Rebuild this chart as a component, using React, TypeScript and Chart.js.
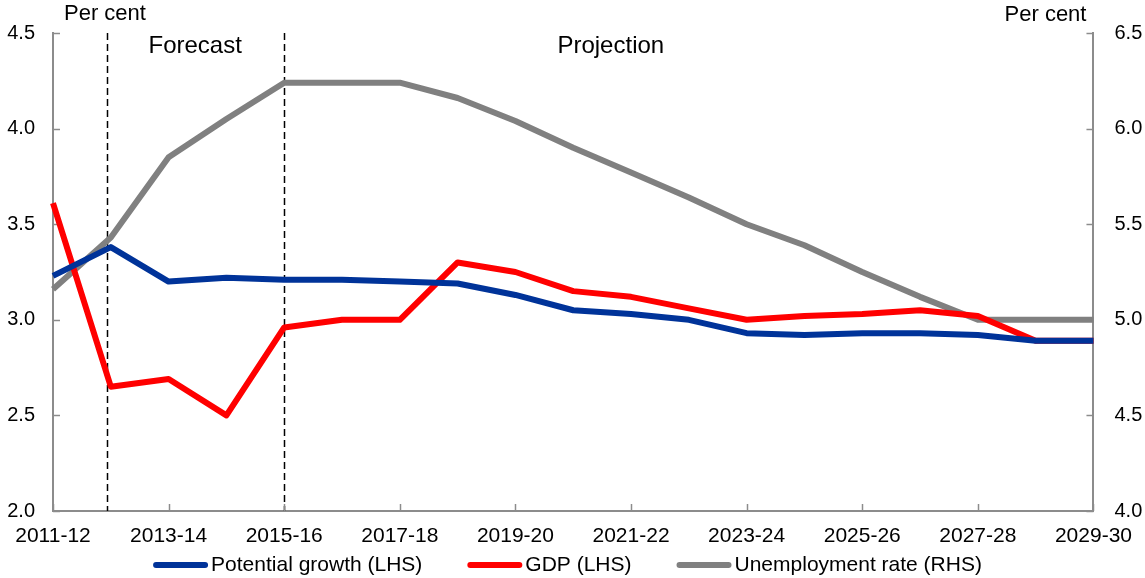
import React, { useEffect, useRef } from "react";
import { Chart, registerables } from "chart.js";
Chart.register(...registerables);

const categories = [
  "2011-12", "2012-13", "2013-14", "2014-15", "2015-16", "2016-17", "2017-18",
  "2018-19", "2019-20", "2020-21", "2021-22", "2022-23", "2023-24", "2024-25",
  "2025-26", "2026-27", "2027-28", "2028-29", "2029-30",
];
const potentialGrowth = [
  3.23, 3.38, 3.2, 3.22, 3.21, 3.21, 3.2, 3.19, 3.13, 3.05, 3.03, 3.0, 2.93,
  2.92, 2.93, 2.93, 2.92, 2.89, 2.89,
];
const gdp = [
  3.61, 2.65, 2.69, 2.5, 2.96, 3.0, 3.0, 3.3, 3.25, 3.15, 3.12, 3.06, 3.0,
  3.02, 3.03, 3.05, 3.02, 2.89, 2.89,
];
const unemployment = [
  5.16, 5.43, 5.85, 6.05, 6.24, 6.24, 6.24, 6.16, 6.04, 5.9, 5.77, 5.64, 5.5,
  5.39, 5.25, 5.12, 5.0, 5.0, 5.0,
];
const leftRange = [2.0, 4.5];
const rightRange = [4.0, 6.5];
const tickStep = 0.5;
const forecastStart = 0.93;
const forecastEnd = 3.99;
const forecastLabelAt = 2.46;
const projectionLabelAt = 9.65;
const seriesLabels = ["Potential growth (LHS)", "GDP (LHS)", "Unemployment rate (RHS)"];

const FONT = "'Liberation Sans', Arial, sans-serif";
const AXIS_GREY = "#8c8c8c";

const decorPlugin = {
  id: "decor",
  beforeDatasetsDraw(chart: any) {
    const { ctx, chartArea, scales } = chart;
    const x = scales.x;
    ctx.save();
    // dashed forecast lines
    ctx.strokeStyle = "#000";
    ctx.lineWidth = 1.5;
    ctx.setLineDash([7, 4]);
    [forecastStart, forecastEnd].forEach((v) => {
      const px = Math.round(x.getPixelForValue(v)) + 0.5;
      ctx.beginPath();
      ctx.moveTo(px, chartArea.top);
      ctx.lineTo(px, chartArea.bottom);
      ctx.stroke();
    });
    ctx.setLineDash([]);
    // inward tick marks
    ctx.strokeStyle = AXIS_GREY;
    ctx.lineWidth = 1.5;
    const yl = scales.y;
    const yr = scales.y1;
    yl.ticks.forEach((t: any) => {
      const py = Math.round(yl.getPixelForValue(t.value)) + 0.5;
      ctx.beginPath();
      ctx.moveTo(chartArea.left, py);
      ctx.lineTo(chartArea.left + 7, py);
      ctx.stroke();
    });
    yr.ticks.forEach((t: any) => {
      const py = Math.round(yr.getPixelForValue(t.value)) + 0.5;
      ctx.beginPath();
      ctx.moveTo(chartArea.right, py);
      ctx.lineTo(chartArea.right - 7, py);
      ctx.stroke();
    });
    categories.forEach((_, i) => {
      if (i % 2 !== 0) return;
      const px = Math.round(x.getPixelForValue(i)) + 0.5;
      ctx.beginPath();
      ctx.moveTo(px, chartArea.bottom);
      ctx.lineTo(px, chartArea.bottom - 7);
      ctx.stroke();
    });
    // annotations
    ctx.fillStyle = "#000";
    ctx.font = `24px ${FONT}`;
    ctx.textAlign = "center";
    ctx.textBaseline = "middle";
    ctx.fillText("Forecast", x.getPixelForValue(forecastLabelAt), chartArea.top + 13);
    ctx.fillText("Projection", x.getPixelForValue(projectionLabelAt), chartArea.top + 13);
    ctx.font = `22px ${FONT}`;
    ctx.textAlign = "left";
    ctx.fillText("Per cent", chartArea.left + 11, 14);
    ctx.textAlign = "right";
    ctx.fillText("Per cent", chartArea.right - 7, 15);
    ctx.restore();
  },
  afterDraw(chart: any) {
    const { ctx } = chart;
    ctx.save();
    ctx.font = `21px ${FONT}`;
    ctx.textBaseline = "middle";
    ctx.textAlign = "left";
    const lineLen = 55;
    const gap = 3;
    const itemGap = 45;
    const items = chart.data.datasets.map((d: any) => ({
      label: d.label,
      color: d.borderColor,
      w: lineLen + gap + ctx.measureText(d.label).width,
    }));
    const total = items.reduce((s: number, it: any) => s + it.w, 0) + itemGap * (items.length - 1);
    let cx = chart.width / 2 - 5 - total / 2;
    const cy = 565;
    items.forEach((it: any) => {
      ctx.strokeStyle = it.color;
      ctx.lineWidth = 6;
      ctx.lineCap = "round";
      ctx.beginPath();
      ctx.moveTo(cx + 3, cy);
      ctx.lineTo(cx + lineLen - 3, cy);
      ctx.stroke();
      ctx.fillStyle = "#000";
      ctx.fillText(it.label, cx + lineLen + gap, cy);
      cx += it.w + itemGap;
    });
    ctx.restore();
  },
};

export default function App() {
  const ref = useRef<HTMLCanvasElement | null>(null);
  useEffect(() => {
    document.body.style.margin = "0";
    const canvas = ref.current;
    if (!canvas) return;
    const chart = new Chart(canvas, {
      type: "line",
      data: {
        labels: categories,
        datasets: [
          {
            label: seriesLabels[0],
            data: potentialGrowth,
            borderColor: "#003399",
            borderWidth: 6,
            pointRadius: 0,
            tension: 0,
            yAxisID: "y",
            borderJoinStyle: "round",
          },
          {
            label: seriesLabels[1],
            data: gdp,
            borderColor: "#ff0000",
            borderWidth: 6,
            pointRadius: 0,
            tension: 0,
            yAxisID: "y",
            borderJoinStyle: "round",
          },
          {
            label: seriesLabels[2],
            data: unemployment,
            borderColor: "#808080",
            borderWidth: 6,
            pointRadius: 0,
            tension: 0,
            yAxisID: "y1",
            borderJoinStyle: "round",
          },
        ],
      },
      options: {
        responsive: false,
        animation: false,
        layout: { padding: { top: 31, left: 0, right: 0, bottom: 0 } },
        plugins: {
          legend: { display: false },
          tooltip: { enabled: false },
        },
        scales: {
          x: {
            type: "category",
            offset: false,
            grid: { display: true, drawOnChartArea: false, drawTicks: false },
            border: { display: true, color: AXIS_GREY, width: 2 },
            ticks: {
              autoSkip: false,
              maxRotation: 0,
              minRotation: 0,
              padding: 13,
              color: "#000",
              font: { family: FONT, size: 21 },
              callback: (_v: any, i: number) => (i % 2 === 0 ? categories[i] : ""),
            },
            afterFit: (s: any) => {
              s.height = 67;
            },
          },
          y: {
            position: "left",
            min: leftRange[0],
            max: leftRange[1],
            grid: { display: true, drawOnChartArea: false, drawTicks: false },
            border: { display: true, color: AXIS_GREY, width: 2 },
            ticks: {
              stepSize: tickStep,
              padding: 18,
              color: "#000",
              font: { family: FONT, size: 20 },
              callback: (v: any) => Number(v).toFixed(1),
            },
            afterFit: (s: any) => {
              s.width = 53;
            },
          },
          y1: {
            position: "right",
            min: rightRange[0],
            max: rightRange[1],
            grid: { display: true, drawOnChartArea: false, drawTicks: false },
            border: { display: true, color: AXIS_GREY, width: 2 },
            ticks: {
              stepSize: tickStep,
              padding: 21,
              color: "#000",
              font: { family: FONT, size: 20 },
              callback: (v: any) => Number(v).toFixed(1),
            },
            afterFit: (s: any) => {
              s.width = 50;
            },
          },
        },
      },
      plugins: [decorPlugin],
    });
    return () => chart.destroy();
  }, []);
  return (
    <canvas
      ref={ref}
      width={1145}
      height={578}
      style={{ display: "block", width: 1145, height: 578 }}
    />
  );
}
